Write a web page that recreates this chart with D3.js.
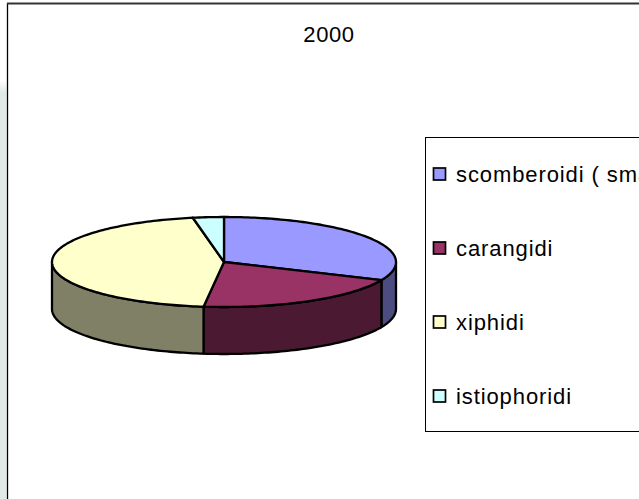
<!DOCTYPE html>
<html>
<head>
<meta charset="utf-8">
<script src="https://cdn.jsdelivr.net/npm/d3@7"></script>
<style>
  body { margin: 0; background: #fff; }
  svg { display: block; }
  text { font-family: "Liberation Sans", Arial, sans-serif; fill: #000; }
</style>
</head>
<body>
<svg id="chart" width="639" height="499"></svg>
<script>
// data (share of catch, %)
var title = '2000';
var categories = ['scomberoidi ( small tunas )', 'carangidi', 'xiphidi', 'istiophoridi'];
var values = [31.6, 20.3, 45.2, 2.9];
var topColors = ['#9999ff', '#993366', '#ffffcc', '#ccffff'];
var sideColors = ['#4c4c80', '#4c1933', '#808066', '#668080'];

var width = 639, height = 499;

// ellipse of the pie top face
var pie3d = {
    cx: 224,
    cy: 262,
    rx: 172,
    ry: 45,
    depth: 47
};

var svg = d3.select('svg#chart');

// left grey strip + chart frame
var grad = svg.append('defs').append('linearGradient')
    .attr('id', 'stripGradient')
    .attr('x1', 0).attr('y1', 0).attr('x2', 0).attr('y2', 1);
grad.append('stop').attr('offset', 0).attr('stop-color', '#e1e9e7').attr('stop-opacity', 0);
grad.append('stop').attr('offset', 0.03).attr('stop-color', '#e1e9e7').attr('stop-opacity', 1);
grad.append('stop').attr('offset', 1).attr('stop-color', '#e1e9e7').attr('stop-opacity', 1);

svg.append('rect')
    .attr('x', 0).attr('y', 80)
    .attr('width', 6.5).attr('height', height - 80)
    .attr('fill', 'url(#stripGradient)');
svg.append('line')
    .attr('x1', 7.5).attr('y1', 3).attr('x2', 7.5).attr('y2', height)
    .attr('stroke', '#000').attr('stroke-width', 1.3);
svg.append('line')
    .attr('x1', 7).attr('y1', 3.5).attr('x2', width).attr('y2', 3.5)
    .attr('stroke', '#333').attr('stroke-width', 2);

svg.append('text')
    .attr('x', 329)
    .attr('y', 42)
    .attr('text-anchor', 'middle')
    .style('font-size', '22px')
    .style('letter-spacing', '0.6px')
    .text(title);

var color = d3.scaleOrdinal().domain(categories).range(topColors);
var sideColor = d3.scaleOrdinal().domain(categories).range(sideColors);

var pie = d3.pie().sort(null).value(function(d) { return d.value; });
var slices = pie(categories.map(function(c, i) { return { name: c, value: values[i] }; }));

function pt(a, dy) {
    return [pie3d.cx + pie3d.rx * Math.sin(a), pie3d.cy - pie3d.ry * Math.cos(a) + dy];
}

function arcPts(a0, a1, dy) {
    var n = Math.max(2, Math.ceil(Math.abs(a1 - a0) / 0.02));
    var pts = [];
    for (var i = 0; i <= n; i++) {
        pts.push(pt(a0 + (a1 - a0) * i / n, dy));
    }
    return pts;
}

var line = d3.line().curve(d3.curveLinear);
var g = svg.append('g');

// side walls, only the front half (pi/2 .. 3pi/2) is visible
slices.forEach(function(d) {
    var a0 = Math.max(d.startAngle, Math.PI / 2);
    var a1 = Math.min(d.endAngle, 3 * Math.PI / 2);
    if (a0 >= a1) return;
    var pts = arcPts(a0, a1, 0).concat(arcPts(a1, a0, pie3d.depth));
    g.append('path')
        .attr('d', line(pts) + 'Z')
        .attr('fill', sideColor(d.data.name))
        .attr('stroke', '#000')
        .attr('stroke-width', 2.3)
        .attr('stroke-linejoin', 'round');
});

// top faces
slices.forEach(function(d) {
    var pts = [[pie3d.cx, pie3d.cy]].concat(arcPts(d.startAngle, d.endAngle, 0));
    g.append('path')
        .attr('d', line(pts) + 'Z')
        .attr('fill', color(d.data.name))
        .attr('stroke', '#000')
        .attr('stroke-width', 2.3)
        .attr('stroke-linejoin', 'round');
});

// legend
var legend = svg.append('g');
legend.append('rect')
    .attr('x', 425.5).attr('y', 137.5)
    .attr('width', 260).attr('height', 294)
    .attr('fill', 'none')
    .attr('stroke', '#000')
    .attr('stroke-width', 1);

var rowY = d3.scalePoint().domain(categories).range([174, 396]);

var item = legend.selectAll('.item')
    .data(categories)
    .enter().append('g')
        .attr('class', 'item')
        .attr('transform', function(d) { return 'translate(0,' + rowY(d) + ')'; });

item.append('rect')
    .attr('x', 433.5).attr('y', -6)
    .attr('width', 12).attr('height', 12)
    .attr('fill', function(d) { return color(d); })
    .attr('stroke', '#000')
    .attr('stroke-width', 1.7);

item.append('text')
    .attr('x', 456)
    .attr('y', 7.5)
    .style('font-size', '22px')
    .style('letter-spacing', '0.9px')
    .text(function(d) { return d; });
</script>
</body>
</html>
